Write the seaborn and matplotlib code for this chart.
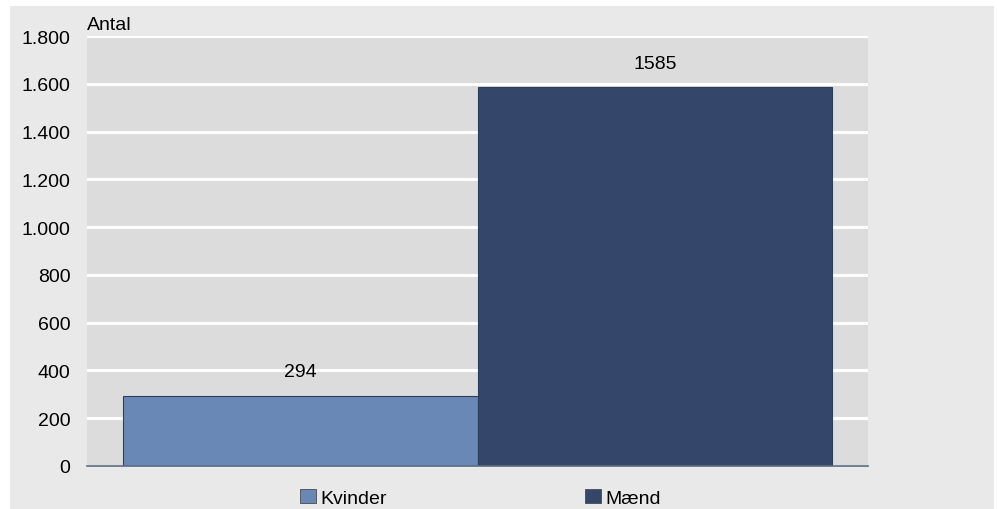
import matplotlib
matplotlib.use("Agg")
import matplotlib.pyplot as plt
import seaborn as sns
import pandas as pd
from matplotlib.patches import Rectangle, Patch
from matplotlib.ticker import FuncFormatter

# Data
koen = ["Kvinder", "Mænd"]
antal = [294, 1585]
farver = ["#6a88b6", "#34466a"]
y_ticks = [0, 200, 400, 600, 800, 1000, 1200, 1400, 1600, 1800]

df = pd.DataFrame({"Køn": koen, "Antal": antal})

sns.set_theme(style="white")
plt.rcParams["font.family"] = ["Liberation Sans", "DejaVu Sans"]
plt.rcParams["text.color"] = "black"

fig = plt.figure(figsize=(9.97, 5.10), dpi=100, facecolor="white")
# grå baggrund
fig.patches.append(Rectangle((10 / 997, 0), 984 / 997, 503 / 510,
                             transform=fig.transFigure, facecolor="#e9e9e9",
                             edgecolor="none", zorder=-10))
ax = fig.add_axes([87 / 997, 43 / 510, 781 / 997, 430 / 510])
ax.set_facecolor("#dcdcdc")

sns.barplot(data=df, x="Køn", y="Antal", hue="Køn", palette=farver,
            saturation=1, width=1.0, legend=False, ax=ax, zorder=3,
            edgecolor="#2e3f5e", linewidth=0.8)

ax.set_xlim(-0.6015, 1.6015)
ax.set_ylim(0, 1800)
ax.set_yticks(y_ticks)
ax.yaxis.set_major_formatter(FuncFormatter(lambda v, p: f"{int(v):,}".replace(",", ".")))
ax.grid(axis="y", color="white", linewidth=2.2, zorder=1)
ax.set_axisbelow(True)
ax.set_xticks([])
ax.set_xlabel("")
ax.set_ylabel("")
for s in ["top", "right", "left"]:
    ax.spines[s].set_visible(False)
ax.spines["bottom"].set_color("#5b6b82")
ax.spines["bottom"].set_linewidth(1.2)
ax.spines["bottom"].set_zorder(5)
ax.tick_params(axis="y", length=0, pad=12, labelsize=14, colors="black")

for i, v in enumerate(antal):
    ax.annotate(str(v), (i, v), xytext=(0, 11), textcoords="offset points",
                ha="center", va="bottom", fontsize=14, color="black")

ax.text(0.0, 1.006, "Antal", transform=ax.transAxes, ha="left", va="bottom",
        fontsize=14, color="black")

handles = [Patch(facecolor=c, edgecolor="#4a4a4a", linewidth=0.6, label=k)
           for k, c in zip(koen, farver)]
fig.legend(handles=handles, loc="lower center", ncol=2, frameon=False,
           bbox_to_anchor=(0.482, -0.03), fontsize=14, handlelength=0.8,
           handleheight=0.8, handletextpad=0.25, columnspacing=10.2,
           labelcolor="black")

fig.savefig("out.png", dpi=100, facecolor=fig.get_facecolor())
